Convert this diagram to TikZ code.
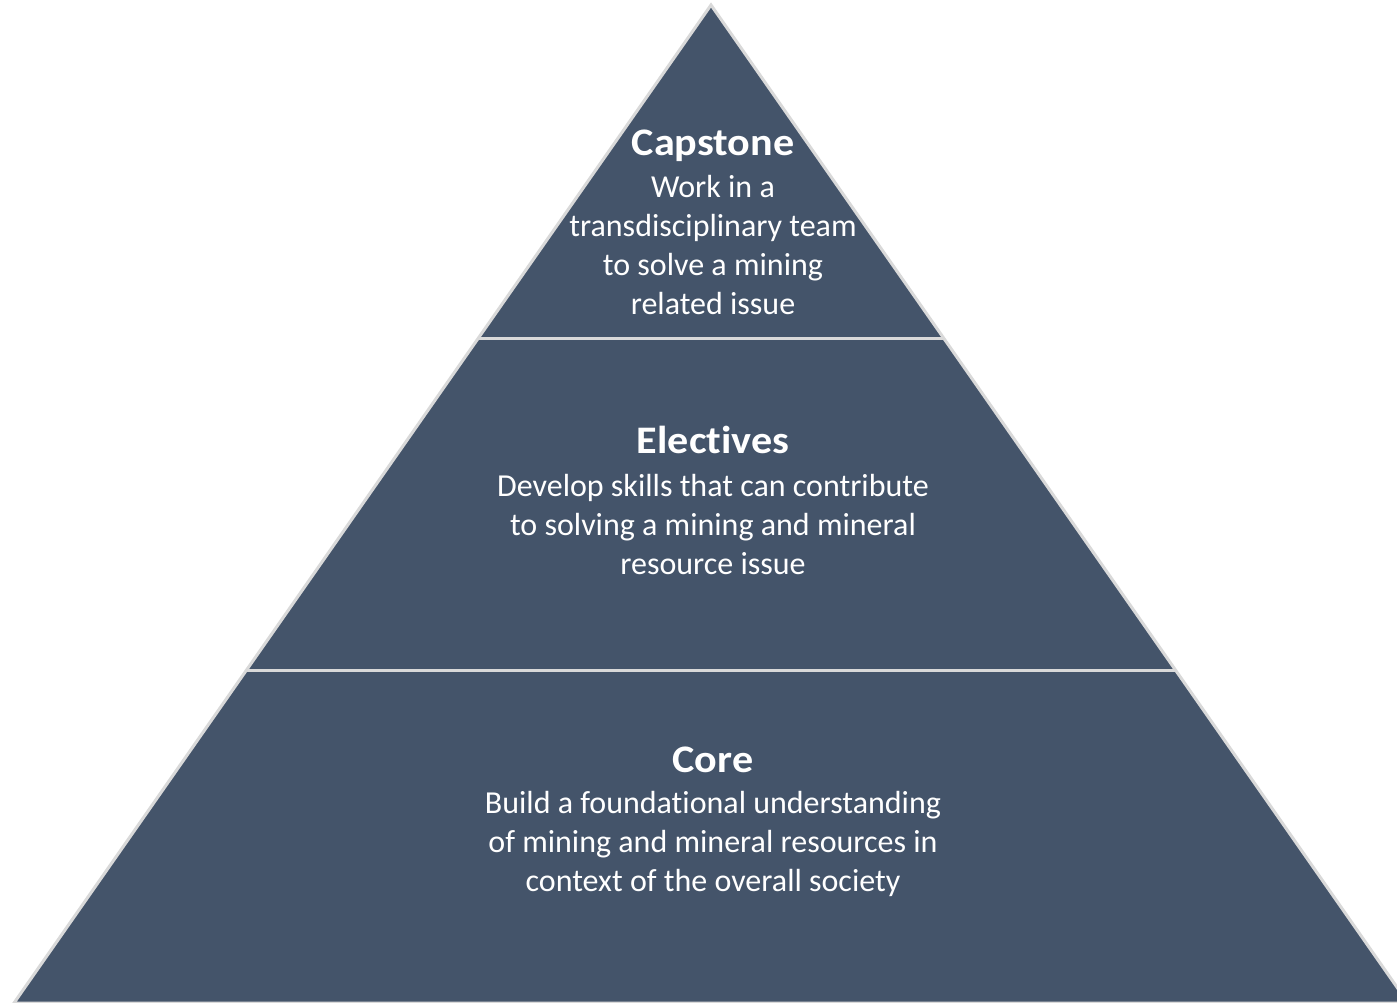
\documentclass[tikz,border=0pt]{standalone}
\usepackage{fontspec}
\setmainfont[Ligatures=NoCommon]{Carlito}
\usetikzlibrary{calc}
\definecolor{tierfill}{HTML}{44546A}
\definecolor{edgegray}{HTML}{D9D9D9}
\newcommand{\tiertitle}[1]{\scalebox{1.08}[1]{#1}}
\tikzset{
  tier/.style={fill=tierfill, draw=edgegray, line width=3pt, line join=miter},
  sepline/.style={draw=edgegray, line width=3pt},
  title/.style={text=white, font=\fontsize{39}{46}\selectfont\bfseries, inner sep=0pt, anchor=base},
  body/.style={text=white, font=\fontsize{32}{39}\selectfont, align=center, inner sep=0pt, anchor=center}
}
\begin{document}
\begin{tikzpicture}[x=1pt, y=-1pt]
\useasboundingbox (0,0) rectangle (1397,1002);
\clip (0,0) rectangle (1397,1002);
\fill[white] (0,0) rectangle (1397,1002);
\coordinate (apex) at (711,5);
\coordinate (bl) at (14,1003);
\coordinate (br) at (1408,1003);
\coordinate (l1) at ($(apex)!0.3337!(bl)$);
\coordinate (r1) at ($(apex)!0.3337!(br)$);
\coordinate (l2) at ($(apex)!0.6673!(bl)$);
\coordinate (r2) at ($(apex)!0.6673!(br)$);
\path[tier] (apex) -- (bl) -- (br) -- cycle;
\draw[sepline] (l1) -- (r1);
\draw[sepline] (l2) -- (r2);
\node[title] (capT) at (713,155) {\tiertitle{Capstone}};
\node[body] (capB) at (713,245) {Work in a\\transdisciplinary team\\to solve a mining\\related issue};
\node[title] (eleT) at (713,453) {\tiertitle{Electives}};
\node[body] (eleB) at (713,524) {Develop skills that can contribute\\to solving a mining and mineral\\resource issue};
\node[title] (corT) at (713,772) {\tiertitle{Core}};
\node[body] (corB) at (713,844) {Build a foundational understanding\\of mining and mineral resources in\\context of the overall society};
\end{tikzpicture}
\end{document}
